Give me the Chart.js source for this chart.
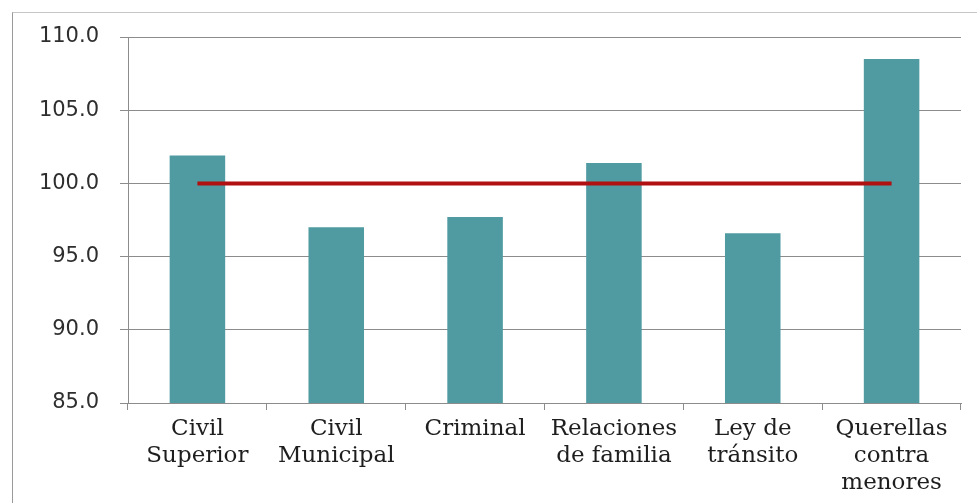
<!DOCTYPE html>
<html>
<head>
<meta charset="utf-8">
<script src="https://cdn.jsdelivr.net/npm/chart.js@4/dist/chart.umd.min.js"></script>
<style>
  html, body { margin: 0; padding: 0; background: #fff; }
  #wrap { position: relative; width: 977px; height: 503px; }
  #frame { position: absolute; left: 12px; top: 12px; right: 0; bottom: 0;
           border-top: 1px solid #c6c6c6; border-left: 1px solid #9a9a9a; }
  canvas { position: absolute; left: 0; top: 0; }
</style>
</head>
<body>
<div id="wrap">
  <div id="frame"></div>
  <canvas id="myChart" width="977" height="503"></canvas>
</div>
<script>
// categories (multi-line labels) and values
const categories = [
    ["Civil", "Superior"],
    ["Civil", "Municipal"],
    ["Criminal"],
    ["Relaciones", "de familia"],
    ["Ley de", "tránsito"],
    ["Querellas", "contra", "menores"]
];
const indexValues = [101.9, 97.0, 97.7, 101.4, 96.6, 108.5];
const baseline = [100, 100, 100, 100, 100, 100];
const yTicks = [85, 90, 95, 100, 105, 110];

new Chart("myChart", {
    type: "bar",
    data: {
        labels: categories,
        datasets: [{
            type: "line",
            data: baseline,
            borderColor: "#b01010",
            borderWidth: 4,
            pointRadius: 0,
            fill: false,
            order: 0
        }, {
            data: indexValues,
            backgroundColor: "#4f9ba1",
            categoryPercentage: 1,
            barPercentage: 0.4,
            order: 1
        }]
    },
    options: {
        responsive: false,
        animation: false,
        layout: { padding: { top: 37, right: 16, left: 0, bottom: 0 } },
        plugins: { legend: { display: false }, tooltip: { enabled: false } },
        scales: {
            x: {
                grid: { drawOnChartArea: false, drawTicks: true, tickLength: 7, color: "#8c8c8c" },
                border: { color: "#8c8c8c", width: 1 },
                ticks: {
                    color: "#1e1e1e",
                    font: { family: "DejaVu Serif", size: 23, lineHeight: 1.18 },
                    padding: 5,
                    maxRotation: 0,
                    autoSkip: false
                },
                afterFit: (scale) => { scale.height = 100; }
            },
            y: {
                min: yTicks[0],
                max: yTicks[yTicks.length - 1],
                afterBuildTicks: (scale) => { scale.ticks = yTicks.map(v => ({ value: v })); },
                grid: { color: "#8c8c8c", tickLength: 8 },
                border: { color: "#8c8c8c", width: 1 },
                ticks: {
                    color: "#2e2e2e",
                    font: { family: "DejaVu Sans", size: 21 },
                    padding: 21,
                    callback: (v) => Number(v).toFixed(1)
                },
                afterFit: (scale) => { scale.width = 128; }
            }
        }
    }
});
</script>
</body>
</html>
